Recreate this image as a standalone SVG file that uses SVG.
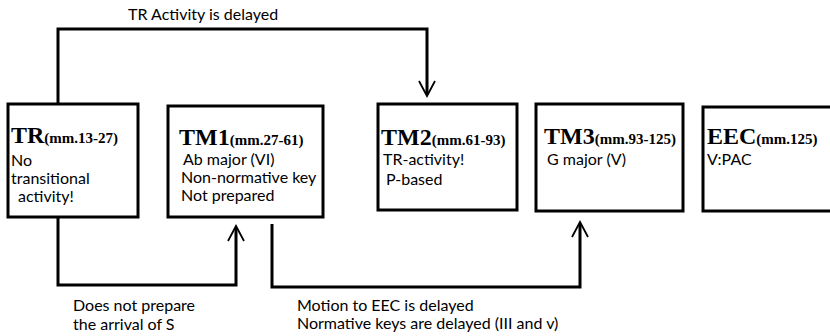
<svg xmlns="http://www.w3.org/2000/svg" width="830" height="336" viewBox="0 0 830 336">
<style>
.box{fill:#fff;stroke:#000;stroke-width:3}
.conn{fill:none;stroke:#000;stroke-width:3}
.head{fill:none;stroke:#000;stroke-width:1.8}
.t{font-family:"Liberation Serif",serif;font-weight:bold;font-size:24px;fill:#000}
.m{font-size:15px}
.s{font-family:Lato,"Liberation Sans",sans-serif;font-size:16px;fill:#000}
</style>
<rect width="830" height="336" fill="#fff"/>
<g id="connectors">
<path class="conn" d="M58,104 V29 H427 V94"/>
<path class="head" d="M419,81 L427,96 L435,81"/>
<path class="conn" d="M58,217 V285 H236 V228"/>
<path class="head" d="M228,241 L236,226 L244,241"/>
<path class="conn" d="M272,224 V287 H580 V224"/>
<path class="head" d="M572,237 L580,222 L588,237"/>
<text class="s" x="128" y="20">TR Activity is delayed</text>
<text class="s" x="73" y="311">Does not prepare</text>
<text class="s" x="73" y="330">the arrival of S</text>
<text class="s" x="297" y="311">Motion to EEC is delayed</text>
<text class="s" x="297" y="329">Normative keys are delayed (III and v)</text>
</g>
<g id="TR">
<rect class="box" x="8" y="104" width="130" height="113"/>
<text class="t" x="11" y="143">TR<tspan class="m">(mm.13-27)</tspan></text>
<text class="s" x="11" y="166">No</text>
<text class="s" x="11" y="184">transitional</text>
<text class="s" x="18" y="202">activity!</text>
</g>
<g id="TM1">
<rect class="box" x="168" y="106" width="155" height="111"/>
<text class="t" x="179" y="145">TM1<tspan class="m">(mm.27-61)</tspan></text>
<text class="s" x="183" y="165">Ab major (VI)</text>
<text class="s" x="181" y="183">Non-normative key</text>
<text class="s" x="181" y="201">Not prepared</text>
</g>
<g id="TM2">
<rect class="box" x="378" y="104" width="139" height="106"/>
<text class="t" x="381" y="145">TM2<tspan class="m">(mm.61-93)</tspan></text>
<text class="s" x="383" y="165">TR-activity!</text>
<text class="s" x="386" y="185">P-based</text>
</g>
<g id="TM3">
<rect class="box" x="536" y="104" width="147" height="107"/>
<text class="t" x="544" y="144">TM3<tspan class="m">(mm.93-125)</tspan></text>
<text class="s" x="547" y="165">G major (V)</text>
</g>
<g id="EEC">
<rect class="box" x="703" y="107" width="140" height="104"/>
<text class="t" x="707" y="144">EEC<tspan class="m">(mm.125)</tspan></text>
<text class="s" x="707" y="165">V:PAC</text>
</g>
</svg>
